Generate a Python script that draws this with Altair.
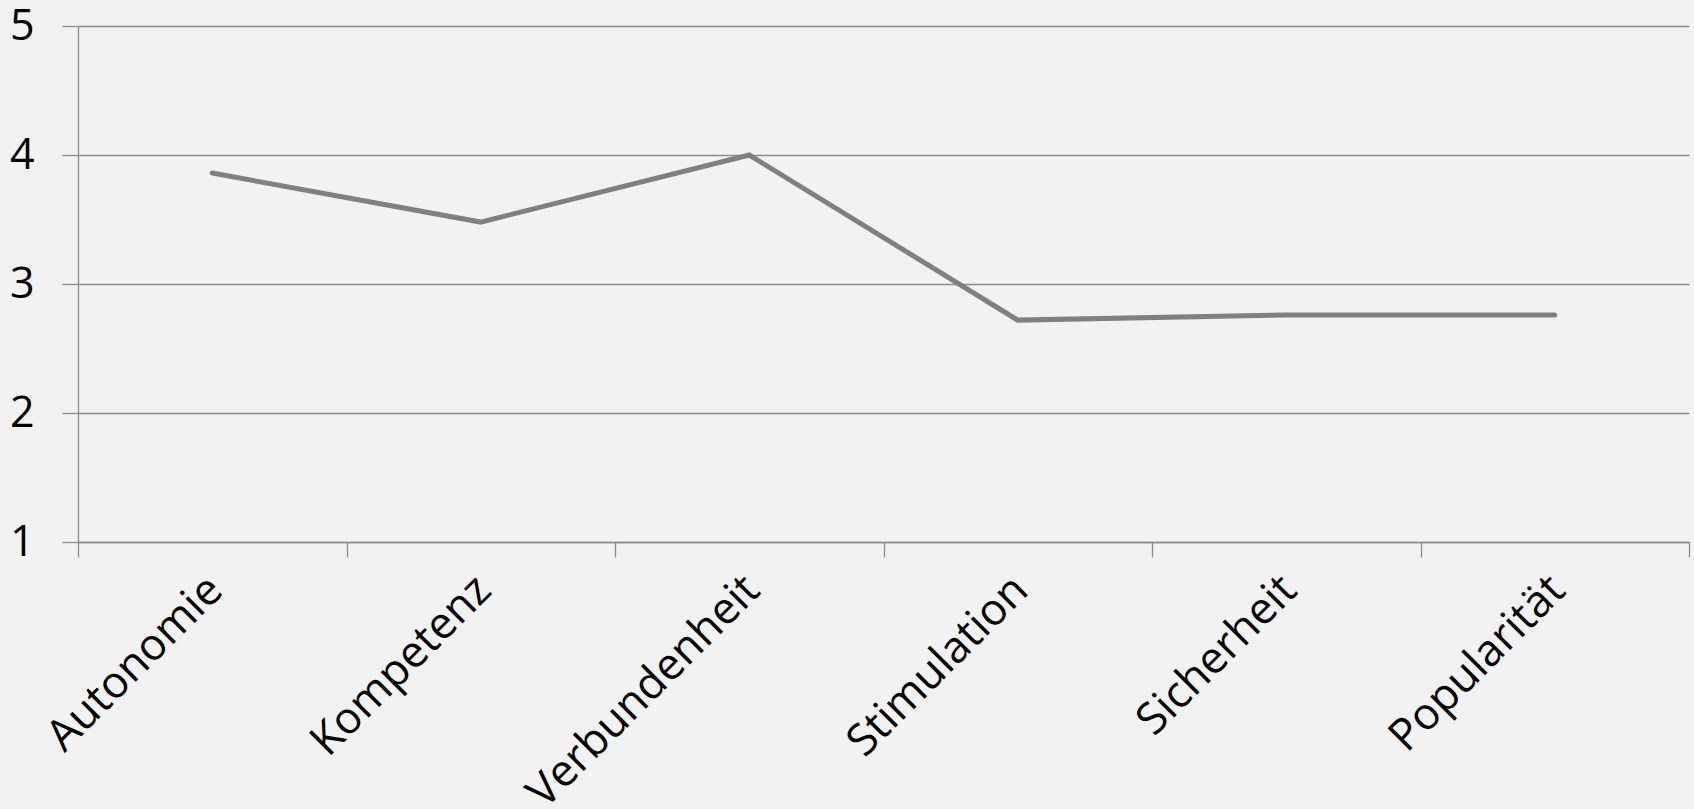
import altair as alt
import pandas as pd

# Mean scores per dimension (scale 1–5)
categories = ["Autonomie", "Kompetenz", "Verbundenheit", "Stimulation", "Sicherheit", "Popularität"]
values = [3.86, 3.48, 4.00, 2.72, 2.76, 2.76]
y_ticks = [1, 2, 3, 4, 5]

df = pd.DataFrame({"Kategorie": categories, "Wert": values})

grid_color = "#8c8c8c"
font = "Open Sans"

chart = (
    alt.Chart(df)
    .mark_line(color="#808080", strokeWidth=5, strokeCap="round")
    .encode(
        x=alt.X(
            "Kategorie:N",
            sort=categories,
            title=None,
            bandPosition=0.5,
            scale=alt.Scale(type="band", paddingInner=0, paddingOuter=0),
            axis=alt.Axis(
                labelAngle=-45,
                labelAlign="right",
                labelBaseline="middle",
                labelPadding=26,
                labelLimit=0,
                labelOffset=3,
                labelFont=font,
                labelFontSize=44,
                labelColor="#000000",
                tickBand="extent",
                tickSize=15,
                tickColor=grid_color,
                tickWidth=1.3,
                domainColor=grid_color,
                domainWidth=1.3,
                grid=False,
            ),
        ),
        y=alt.Y(
            "Wert:Q",
            title=None,
            scale=alt.Scale(domain=[1, 5], nice=False, zero=False),
            axis=alt.Axis(
                values=y_ticks,
                format="d",
                labelFont=font,
                labelFontSize=43,
                labelColor="#000000",
                labelPadding=28,
                labelBaseline="middle",
                tickSize=16,
                tickColor=grid_color,
                tickWidth=1.3,
                domainColor=grid_color,
                domainWidth=1.3,
                grid=True,
                gridColor=grid_color,
                gridWidth=1.3,
            ),
        ),
    )
    .properties(
        width=1611,
        height=516,
        autosize="none",
        padding={"left": 78, "top": 26, "right": 5, "bottom": 267},
    )
    .configure(background="#f2f2f2")
    .configure_view(stroke=None)
)

chart.save("out.html", embed_options={"renderer": "svg", "actions": False})
